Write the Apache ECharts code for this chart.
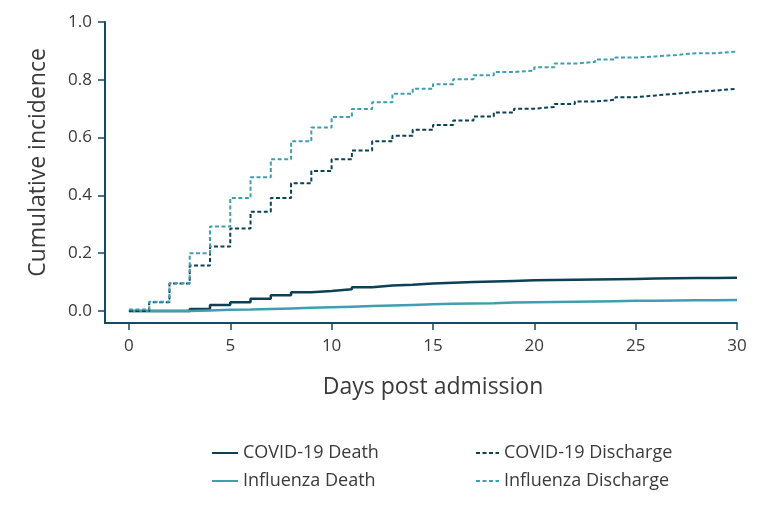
<!DOCTYPE html>
<html>
<head>
<meta charset="utf-8">
<script src="https://cdn.jsdelivr.net/npm/echarts@6/dist/echarts.min.js"></script>
<style>html,body{margin:0;padding:0;background:#fff}#c{width:773px;height:511px}</style>
</head>
<body>
<div id="c"></div>
<script>
const days = [0,1,2,3,4,5,6,7,8,9,10,11,12,13,14,15,16,17,18,19,20,21,22,23,24,25,26,27,28,29,30];
const xTicks = [0,5,10,15,20,25,30];
const yTicks = [0,0.2,0.4,0.6,0.8,1.0];
const covidDeath = [0,0,0,0.007,0.021,0.030,0.042,0.054,0.065,0.069,0.075,0.082,0.088,0.091,0.095,0.098,0.100,0.102,0.104,0.106,0.107,0.108,0.109,0.110,0.111,0.112,0.113,0.114,0.114,0.115,0.115];
const fluDeath = [0,0,0,0.002,0.004,0.005,0.007,0.009,0.011,0.013,0.015,0.017,0.019,0.021,0.023,0.025,0.026,0.027,0.029,0.030,0.031,0.032,0.033,0.034,0.035,0.035,0.036,0.037,0.037,0.038,0.038];
const covidDischarge = [0,0.030,0.095,0.157,0.223,0.285,0.343,0.391,0.442,0.484,0.525,0.555,0.587,0.606,0.627,0.644,0.659,0.673,0.687,0.700,0.706,0.716,0.725,0.731,0.740,0.746,0.752,0.758,0.763,0.769,0.769];
const fluDischarge = [0.005,0.032,0.096,0.200,0.292,0.391,0.463,0.525,0.587,0.635,0.671,0.699,0.722,0.752,0.769,0.785,0.802,0.816,0.827,0.832,0.843,0.856,0.862,0.870,0.877,0.881,0.886,0.892,0.892,0.898,0.898];

const DARK = '#0c4057';
const LIGHT = '#3f9fb0';
const AXIS = '#164a63';
const TEXT = '#3a3a3a';
const FONT = 'Open Sans';

function pts(vals){ return days.map((d,i)=>[d, vals[i]]); }
function ser(name, vals, color, dashed){
  return {
    name, type:'line', step:'end', data: pts(vals), showSymbol:false, symbol:'none',
    lineStyle:{color, width: dashed?2:2.5, type: dashed?[4,2.5]:'solid'},
    itemStyle:{color}, animation:false, z: dashed?3:2
  };
}
const legendCommon = {
  orient:'vertical', top:439, itemHeight:14, itemGap:10,
  itemStyle:{opacity:0},
  textStyle:{fontFamily:FONT, fontSize:18, color:TEXT}
};
const chart = echarts.init(document.getElementById('c'), null, {renderer:'canvas'});
chart.setOption({
  backgroundColor:'#fff',
  animation:false,
  grid:{left:105, right:36, top:22, bottom:188, containLabel:false},
  xAxis:{
    type:'value', min:-1.18, max:30,
    name:'Days post admission', nameLocation:'middle', nameGap:53,
    nameTextStyle:{fontFamily:FONT, fontSize:23, color:TEXT, padding:[0,0,0,24]},
    axisLine:{show:true, onZero:false, lineStyle:{color:AXIS, width:2}},
    axisTick:{show:true, customValues:xTicks, length:7, lineStyle:{color:AXIS, width:1.5}},
    axisLabel:{customValues:xTicks, fontFamily:FONT, fontSize:17, color:TEXT, margin:15},
    splitLine:{show:false}
  },
  yAxis:{
    type:'value', min:-0.0416, max:1.0,
    name:'Cumulative incidence', nameLocation:'middle', nameGap:55, nameRotate:90,
    nameTextStyle:{fontFamily:FONT, fontSize:23, color:TEXT, padding:[0,0,0,20]},
    axisLine:{show:true, onZero:false, lineStyle:{color:AXIS, width:2}},
    axisTick:{show:true, customValues:yTicks, length:7, lineStyle:{color:AXIS, width:1.5}},
    axisLabel:{customValues:yTicks, fontFamily:FONT, fontSize:17, color:TEXT, margin:13,
      formatter:v=>v.toFixed(1)},
    splitLine:{show:false}
  },
  legend:[
    Object.assign({}, legendCommon, {id:'lg1', left:206, itemWidth:26, data:['COVID-19 Death','Influenza Death']}),
    Object.assign({}, legendCommon, {id:'lg2', left:470, itemWidth:23, data:['COVID-19 Discharge','Influenza Discharge']})
  ],
  series:[
    ser('COVID-19 Death', covidDeath, DARK, false),
    ser('Influenza Death', fluDeath, LIGHT, false),
    ser('COVID-19 Discharge', covidDischarge, DARK, true),
    ser('Influenza Discharge', fluDischarge, LIGHT, true)
  ]
});
</script>
</body>
</html>
